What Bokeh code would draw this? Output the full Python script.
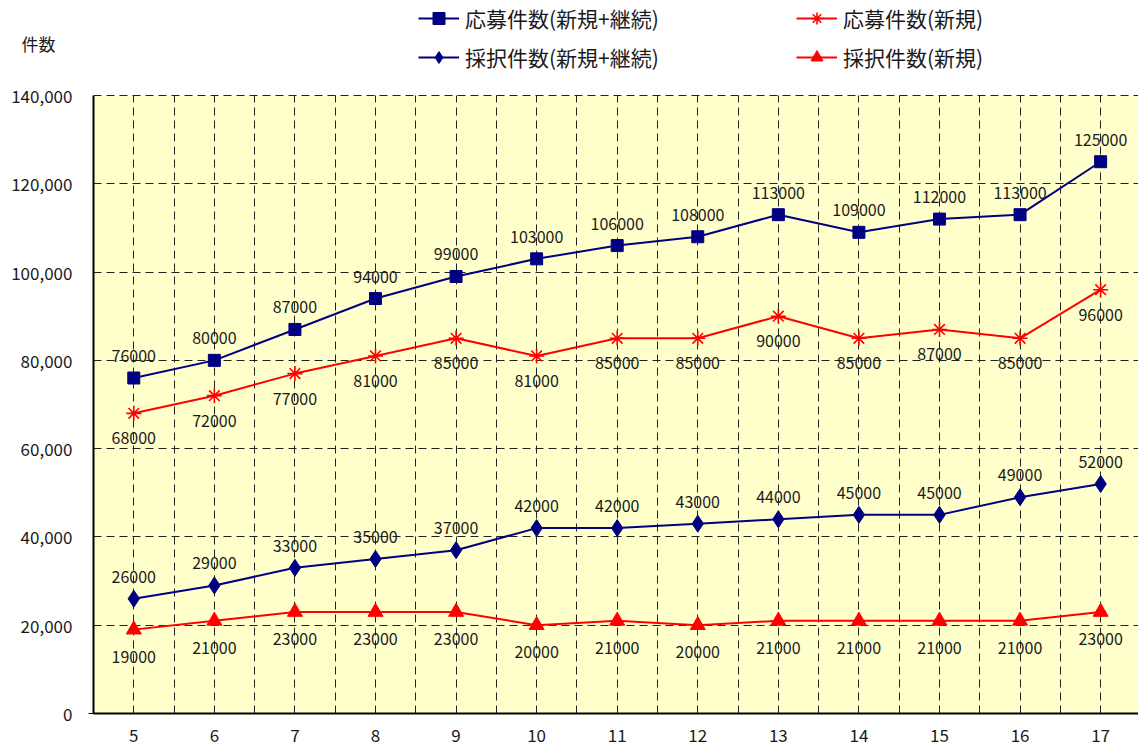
from bokeh.plotting import figure
from bokeh.models import (ColumnDataSource, FixedTicker, NumeralTickFormatter,
                          Legend, LegendItem, Range1d, LinearAxis, BoxAnnotation)
from bokeh.core.properties import value
from bokeh.embed import file_html
from bokeh.resources import INLINE

# 年度 (平成)
years = ["5", "6", "7", "8", "9", "10", "11", "12", "13", "14", "15", "16", "17"]

apply_all = [76000, 80000, 87000, 94000, 99000, 103000, 106000, 108000,
             113000, 109000, 112000, 113000, 125000]
apply_new = [68000, 72000, 77000, 81000, 85000, 81000, 85000, 85000,
             90000, 85000, 87000, 85000, 96000]
adopt_all = [26000, 29000, 33000, 35000, 37000, 42000, 42000, 43000,
             44000, 45000, 45000, 49000, 52000]
adopt_new = [19000, 21000, 23000, 23000, 23000, 20000, 21000, 20000,
             21000, 21000, 21000, 21000, 23000]

y_ticks = [0, 20000, 40000, 60000, 80000, 100000, 120000, 140000]
y_max = 140000
unit_label = "件数"

FONT = "Noto Sans CJK JP"
NAVY = "#000080"
RED = "#FF0000"
TEXT = "#1a1a1a"

xs = list(range(len(years)))

# the frame runs up to the top of the canvas so the legend can sit above
# the plotting area; the yellow area itself stops at y_max
top_room = y_max * 713 / 618
p = figure(width=1138, height=749, output_backend="svg", toolbar_location=None,
           x_range=Range1d(-0.5, 12.47), y_range=Range1d(0, top_room),
           min_border_left=93, min_border_right=0, min_border_top=0,
           min_border_bottom=36)
p.background_fill_color = "white"
p.border_fill_color = "white"
p.outline_line_color = None

p.add_layout(BoxAnnotation(left=-0.5, right=13, bottom=0, top=y_max,
                           fill_color="#FFFFCC", fill_alpha=1,
                           line_color=None, level="image"))

# grid: dashed lines at categories and between categories
p.xgrid.ticker = FixedTicker(ticks=[i * 0.5 - 0.5 for i in range(27)])
p.xgrid.cross_bounds = (0, y_max)
p.ygrid.ticker = FixedTicker(ticks=y_ticks)
for g in (p.xgrid[0], p.ygrid[0]):
    g.grid_line_color = "#222222"
    g.grid_line_dash = "8 5"
    g.grid_line_width = 1

# x axis
p.xaxis.ticker = FixedTicker(ticks=xs)
p.xaxis.major_label_overrides = {i: y for i, y in enumerate(years)}
p.xaxis.axis_line_color = "black"
p.xaxis.axis_line_width = 2
p.xaxis.major_tick_in = 0
p.xaxis.major_tick_out = 0
p.xaxis.minor_tick_line_color = None
p.xaxis.major_label_standoff = 15
p.xaxis.major_label_text_font = FONT
p.xaxis.major_label_text_font_size = "17px"
p.xaxis.major_label_text_color = TEXT

# inner y axis: the axis line of the plotting area
ya = p.yaxis[0]
ya.bounds = (0, y_max)
ya.ticker = FixedTicker(ticks=[0])
ya.major_label_overrides = {0: ""}
ya.major_label_standoff = 0
ya.major_tick_in = 0
ya.major_tick_out = 5
ya.major_tick_line_color = "black"
ya.minor_tick_line_color = None
ya.axis_line_color = "black"
ya.axis_line_width = 2

# outer y axis: value labels plus the unit caption above them
yb = LinearAxis(bounds=(0, 151800), ticker=FixedTicker(ticks=y_ticks + [151800]),
                formatter=NumeralTickFormatter(format="0,0"),
                major_label_overrides={151800: unit_label + "\u3000"},
                axis_line_color=None, major_tick_line_color=None,
                minor_tick_line_color=None, major_tick_in=0, major_tick_out=0,
                major_label_standoff=16, major_label_text_font=FONT,
                major_label_text_font_size="17px", major_label_text_color=TEXT)
p.add_layout(yb, "left")

src = ColumnDataSource(dict(x=xs, apply_all=apply_all, apply_new=apply_new,
                            adopt_all=adopt_all, adopt_new=adopt_new,
                            l_apply_all=[str(v) for v in apply_all],
                            l_apply_new=[str(v) for v in apply_new],
                            l_adopt_all=[str(v) for v in adopt_all],
                            l_adopt_new=[str(v) for v in adopt_new]))

series = [
    ("apply_all", NAVY, "square", 12, -22),
    ("apply_new", RED, "asterisk", 15, 25),
    ("adopt_all", NAVY, "diamond", 17, -22),
    ("adopt_new", RED, "triangle", 15, 27),
]
renderers = {}
for key, color, marker, size, dy in series:
    ln = p.line("x", key, source=src, line_color=color, line_width=2)
    sc = p.scatter("x", key, source=src, marker=marker, size=size,
                   fill_color=color, line_color=color,
                   line_width=1.6 if marker == "asterisk" else 1)
    renderers[key] = [ln, sc]
    p.text("x", key, text="l_" + key, source=src, y_offset=dy,
           text_align="center", text_baseline="middle",
           text_font=value(FONT), text_font_size="16px", text_color=TEXT)

legend_style = dict(border_line_color=None, background_fill_alpha=0,
                    padding=0, margin=0, spacing=9, glyph_width=41,
                    glyph_height=30, label_height=20, label_standoff=6,
                    label_text_font=FONT, label_text_font_size="21px",
                    label_text_color=TEXT)
leg1 = Legend(items=[
    LegendItem(label="応募件数(新規+継続)", renderers=renderers["apply_all"]),
    LegendItem(label="採択件数(新規+継続)", renderers=renderers["adopt_all"]),
], location=(325, 641), **legend_style)
leg2 = Legend(items=[
    LegendItem(label="応募件数(新規)", renderers=renderers["apply_new"]),
    LegendItem(label="採択件数(新規)", renderers=renderers["adopt_new"]),
], location=(703, 641), **legend_style)
p.add_layout(leg1)
p.add_layout(leg2)

open("out.html", "w").write(file_html(p, INLINE))
